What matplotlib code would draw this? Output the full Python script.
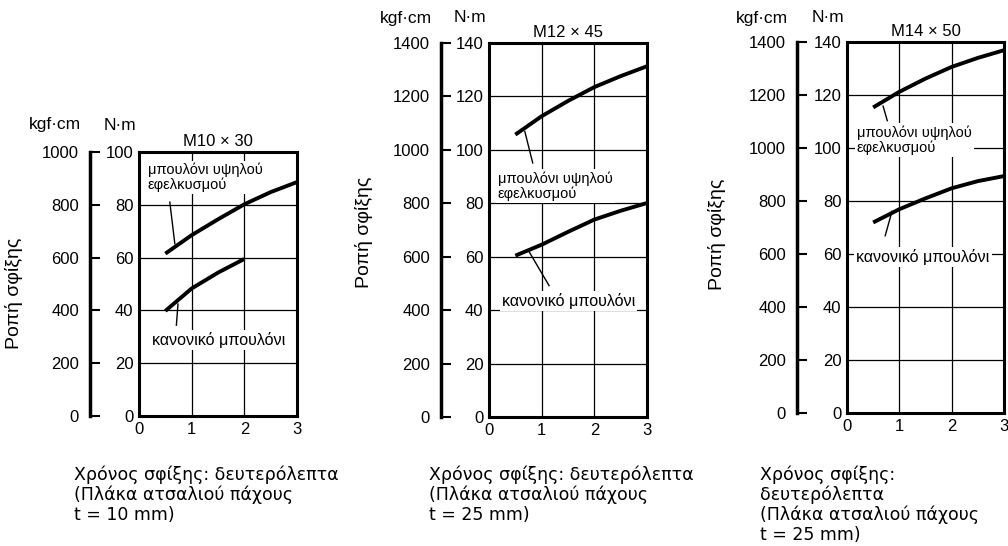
import matplotlib.pyplot as plt

plt.rcParams['font.family'] = ['Liberation Sans', 'DejaVu Sans']

W, H = 1008, 546

# tightening time (s) and torque (N·m)
time_s = [0.5, 1.0, 1.5, 2.0, 2.5, 3.0]
m10_high = [61.5, 68.5, 74.5, 80.2, 84.8, 88.6]
m10_normal_time = [0.5, 1.0, 1.5, 2.0]
m10_normal = [39.8, 48.3, 54.3, 59.5]
m12_high = [105.7, 112.6, 118.3, 123.5, 127.6, 131.3]
m12_normal = [60.4, 64.5, 69.3, 73.9, 77.2, 80.1]
m14_high = [115.3, 121.2, 126.2, 130.6, 134.0, 136.9]
m14_normal = [71.9, 76.9, 81.0, 84.8, 87.5, 89.4]

titles = ['M10 × 30', 'M12 × 45', 'M14 × 50']
y_max = [100, 140, 140]
high_label = 'μπουλόνι υψηλού\nεφελκυσμού'
normal_label = 'κανονικό μπουλόνι'
ylabel = 'Ροπή σφίξης'
xlabels = ['Χρόνος σφίξης: δευτερόλεπτα\n(Πλάκα ατσαλιού πάχους\nt = 10 mm)',
           'Χρόνος σφίξης: δευτερόλεπτα\n(Πλάκα ατσαλιού πάχους\nt = 25 mm)',
           'Χρόνος σφίξης:\nδευτερόλεπτα\n(Πλάκα ατσαλιού πάχους\nt = 25 mm)']

series = [(time_s, m10_high, m10_normal_time, m10_normal),
          (time_s, m12_high, time_s, m12_normal),
          (time_s, m14_high, time_s, m14_normal)]

# layout (pixels): axes box, kgf line x, unit label y, ylabel pos, xlabel pos
boxes = [(139, 152, 297, 416), (489, 43, 647, 417), (847, 42, 1004, 413)]
kgf_x = [90, 441, 797]
unit_y = [125, 18, 18]
ylab_pos = [(14, 293), (364, 232), (717, 234)]
xlab_pos = [(74, 466), (429, 466), (760, 466)]

# text placements and leader lines in data coords
high_text = [(0.17, 96), (0.17, 92), (0.19, 108.5)]
high_lead = [((0.68, 65.3), (0.585, 81)), ((0.68, 106.9), (0.83, 95.1)), ((0.69, 115.8), (0.77, 110.3))]
normal_text = [(0.25, 28.7), (0.25, 43.3), (0.18, 59)]
normal_lead = [((0.74, 42.4), (0.71, 34.4)), ((0.74, 62.6), (1.14, 49.2)), ((0.86, 76.1), (0.73, 66.9))]

fig = plt.figure(figsize=(W / 100, H / 100), dpi=100)

for i in range(3):
    x0, y0, x1, y1 = boxes[i]
    ax = fig.add_axes([x0 / W, 1 - y1 / H, (x1 - x0) / W, (y1 - y0) / H])
    ax.set_xlim(0, 3)
    ax.set_ylim(0, y_max[i])
    ax.set_xticks([0, 1, 2, 3])
    ax.set_yticks(range(0, y_max[i] + 1, 20))
    ax.tick_params(length=0, labelsize=12, pad=4)
    ax.grid(True, color='black', linewidth=0.9)
    for s in ax.spines.values():
        s.set_linewidth(2.2)

    t1, hi, t2, lo = series[i]
    ax.plot(t1, hi, color='black', linewidth=2.8, solid_capstyle='butt', zorder=4)
    ax.plot(t2, lo, color='black', linewidth=2.8, solid_capstyle='butt', zorder=4)

    (a, b) = high_lead[i]
    ax.plot([a[0], b[0]], [a[1], b[1]], color='black', linewidth=1, zorder=3)
    (a, b) = normal_lead[i]
    ax.plot([a[0], b[0]], [a[1], b[1]], color='black', linewidth=1, zorder=3)

    box = dict(facecolor='white', edgecolor='none', pad=1.5)
    ax.text(*high_text[i], high_label, fontsize=10.5, va='top', ha='left',
            linespacing=1.05, bbox=box, zorder=3.5)
    ax.text(*normal_text[i], normal_label, fontsize=11.5, va='center', ha='left',
            bbox=box, zorder=3.5)

    ax.set_title(titles[i], fontsize=12, pad=4)

    # kgf·cm scale
    loc = (kgf_x[i] - x0) / (x1 - x0)
    sec = ax.secondary_yaxis(loc, functions=(lambda v: v * 10, lambda v: v / 10))
    sec.set_yticks(range(0, y_max[i] * 10 + 1, 200))
    sec.tick_params(direction='in', length=7, width=1.5, labelsize=12, pad=8)
    sec.spines['left'].set_linewidth(2.5)

    fig.text((kgf_x[i] - 35) / W, 1 - unit_y[i] / H, 'kgf·cm', fontsize=12.5, ha='center', va='center')
    fig.text((x0 - 19) / W, 1 - unit_y[i] / H, 'N·m', fontsize=12.5, ha='center', va='center')
    fig.text(ylab_pos[i][0] / W, 1 - ylab_pos[i][1] / H, ylabel, fontsize=14,
             rotation=90, ha='center', va='center')
    fig.text(xlab_pos[i][0] / W, 1 - xlab_pos[i][1] / H, xlabels[i], fontsize=12.5,
             family=['DejaVu Sans'], ha='left', va='top', linespacing=1.1)

fig.savefig('out.png', dpi=100)
